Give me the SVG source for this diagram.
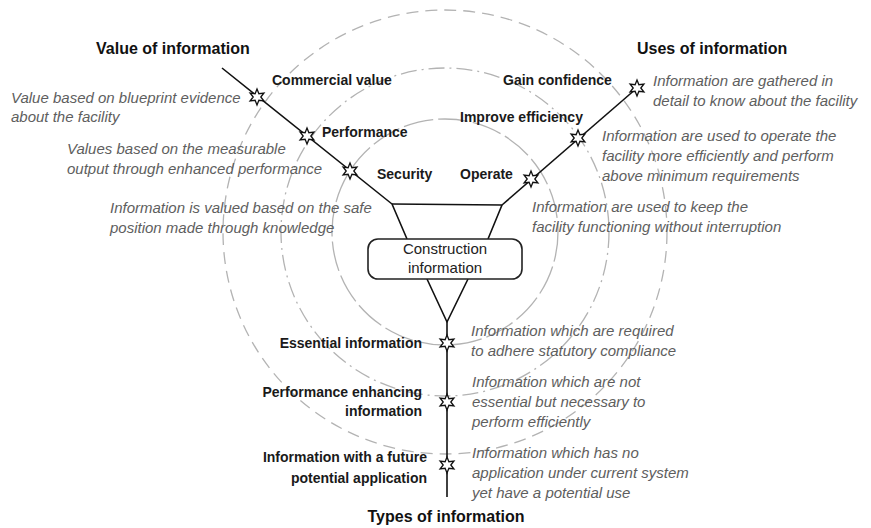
<svg xmlns="http://www.w3.org/2000/svg" width="871" height="528" viewBox="0 0 871 528">
<style>
.title{font-family:"Liberation Sans",Arial,sans-serif;font-weight:bold;font-size:16px;fill:#111}
.lbl{font-family:"Liberation Sans",Arial,sans-serif;font-weight:bold;font-size:14px;fill:#1a1a1a}
.desc{font-family:"Liberation Sans",Arial,sans-serif;font-style:italic;font-size:15px;fill:#5e5e5e}
.box{font-family:"Liberation Sans",Arial,sans-serif;font-size:15px;fill:#222;text-anchor:middle}
.ring{fill:none;stroke:#b3b3b3;stroke-width:1.3}
.ln{fill:none;stroke:#111;stroke-width:1.6;stroke-linejoin:round}
.star{fill:#fff;stroke:#111;stroke-width:1.3;stroke-linejoin:miter}
</style>
<defs>
<path id="star" d="M0,-8 L1.9,-3.3 L6.9,-4 L3.8,0 L6.9,4 L1.9,3.3 L0,8 L-1.9,3.3 L-6.9,4 L-3.8,0 L-6.9,-4 L-1.9,-3.3 Z"/>
</defs>
<rect width="871" height="528" fill="#fff"/>
<g id="rings">
<circle class="ring" cx="445" cy="232" r="222" stroke-dasharray="12 7"/>
<circle class="ring" cx="445" cy="232" r="164" stroke-dasharray="16 5 2 5"/>
<circle class="ring" cx="445" cy="232" r="113" stroke-dasharray="30 5"/>
</g>
<g id="connectors">
<polyline class="ln" points="222,68 392,204 407,239"/>
<polyline class="ln" points="392,204 502,205 488,239"/>
<polyline class="ln" points="502,205 637,88"/>
<polyline class="ln" points="427,279 447,322 468,279"/>
<line class="ln" x1="447" y1="322" x2="447" y2="497"/>
</g>
<g id="titles">
<text class="title" x="96" y="54">Value of information</text>
<text class="title" x="637" y="54">Uses of information</text>
<text class="title" x="446" y="522" text-anchor="middle">Types of information</text>
</g>
<g id="construction-information">
<rect x="368" y="239" width="154" height="40" rx="10" fill="#fff" stroke="#222" stroke-width="1.6"/>
<text class="box" x="445" y="254">Construction</text>
<text class="box" x="445" y="273">information</text>
</g>
<g id="commercial-value">
<use href="#star" class="star" transform="translate(257,97)"/>
<text class="lbl" x="272" y="85">Commercial value</text>
<text class="desc" x="11" y="103">Value based on blueprint evidence</text>
<text class="desc" x="11" y="122">about the facility</text>
</g>
<g id="performance">
<use href="#star" class="star" transform="translate(307,136)"/>
<text class="lbl" x="322" y="137">Performance</text>
<text class="desc" x="67" y="154">Values based on the measurable</text>
<text class="desc" x="67" y="174">output through enhanced performance</text>
</g>
<g id="security">
<use href="#star" class="star" transform="translate(350,171)"/>
<text class="lbl" x="377" y="179">Security</text>
<text class="desc" x="110" y="213">Information is valued based on the safe</text>
<text class="desc" x="110" y="233">position made through knowledge</text>
</g>
<g id="gain-confidence">
<use href="#star" class="star" transform="translate(637,88)"/>
<text class="lbl" x="503" y="85">Gain confidence</text>
<text class="desc" x="653" y="86">Information are gathered in</text>
<text class="desc" x="653" y="106">detail to know about the facility</text>
</g>
<g id="improve-efficiency">
<use href="#star" class="star" transform="translate(578,138)"/>
<text class="lbl" x="460" y="122">Improve efficiency</text>
<text class="desc" x="602" y="141">Information are used to operate the</text>
<text class="desc" x="602" y="161">facility more efficiently and perform</text>
<text class="desc" x="602" y="181">above minimum requirements</text>
</g>
<g id="operate">
<use href="#star" class="star" transform="translate(531,179)"/>
<text class="lbl" x="460" y="179">Operate</text>
<text class="desc" x="532" y="212">Information are used to keep the</text>
<text class="desc" x="532" y="232">facility functioning without interruption</text>
</g>
<g id="essential-information">
<use href="#star" class="star" transform="translate(447,343)"/>
<text class="lbl" x="422" y="348" text-anchor="end">Essential information</text>
<text class="desc" x="471" y="336">Information which are required</text>
<text class="desc" x="471" y="356">to adhere statutory compliance</text>
</g>
<g id="performance-enhancing-information">
<use href="#star" class="star" transform="translate(447,402)"/>
<text class="lbl" x="422" y="397" text-anchor="end">Performance enhancing</text>
<text class="lbl" x="422" y="416" text-anchor="end">information</text>
<text class="desc" x="472" y="387">Information which are not</text>
<text class="desc" x="472" y="407">essential but necessary to</text>
<text class="desc" x="472" y="427">perform efficiently</text>
</g>
<g id="future-potential-information">
<use href="#star" class="star" transform="translate(447,465)"/>
<text class="lbl" x="427" y="462" text-anchor="end">Information with a future</text>
<text class="lbl" x="427" y="483" text-anchor="end">potential application</text>
<text class="desc" x="472" y="458">Information which has no</text>
<text class="desc" x="472" y="478">application under current system</text>
<text class="desc" x="472" y="498">yet have a potential use</text>
</g>
</svg>
